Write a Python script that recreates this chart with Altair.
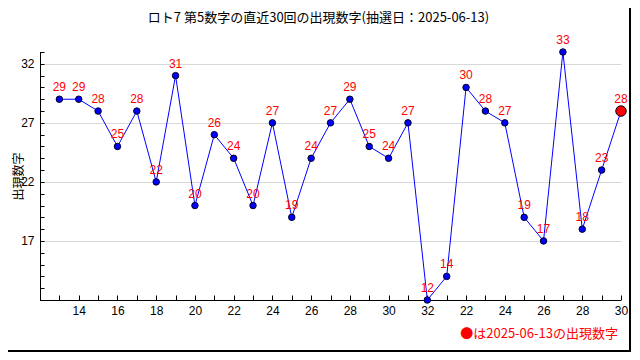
import json
import altair as alt
import pandas as pd

# ---- data ----
draw_index = list(range(1, 31))
numbers = [29, 29, 28, 25, 28, 22, 31, 20, 26, 24, 20, 27, 19, 24, 27,
           29, 25, 24, 27, 12, 14, 30, 28, 27, 19, 17, 33, 18, 23, 28]
x_tick_labels = ["13", "14", "15", "16", "17", "18", "19", "20", "21", "22",
                 "23", "24", "25", "26", "27", "28", "29", "30", "31", "32",
                 "21", "22", "23", "24", "25", "26", "27", "28", "29", "30"]
y_ticks = list(range(12, 34))
y_labeled = [17, 22, 27, 32]
title_text = "ロト7 第5数字の直近30回の出現数字(抽選日：2025-06-13)"
y_title = "出現数字"
note_text = "●は2025-06-13の出現数字"

df = pd.DataFrame({"idx": draw_index, "num": numbers})
df["latest"] = df["idx"] == draw_index[-1]

W, H = 581, 248
CJK = "Noto Sans CJK JP"
NUM = "Liberation Sans"

x_enc = alt.X(
    "idx:Q",
    scale=alt.Scale(domain=[0, 30], nice=False, zero=False),
    axis=alt.Axis(
        values=draw_index,
        labelExpr=f"datum.value % 2 == 0 ? {json.dumps(x_tick_labels)}[datum.value - 1] : ''",
        tickSize=5, offset=-5, domain=False, grid=False, title=None,
        labelPadding=5, labelFontSize=12, labelFont=NUM, labelColor="black",
        tickColor="black", labelOverlap=False, labelFlush=False,
    ),
)
y_enc = alt.Y(
    "num:Q",
    scale=alt.Scale(domain=[12, 33], nice=False, zero=False),
    axis=alt.Axis(
        values=y_ticks,
        labelExpr=f"indexof({json.dumps(y_labeled)}, datum.value) >= 0 ? datum.label : ''",
        tickSize=4, offset=-4, domain=False,
        grid=True, gridColor="#d8d8d8", gridWidth=1,
        gridOpacity={"condition": {"test": f"indexof({json.dumps(y_labeled)}, datum.value) >= 0", "value": 1}, "value": 0},
        labelPadding=6, labelFontSize=12, labelFont=NUM, labelColor="black",
        tickColor="black", labelOverlap=False, labelFlush=False,
        title=y_title, titleX=-26, titleY=H / 2, titleAngle=270,
        titleAlign="center", titleBaseline="middle", titleFontSize=12,
        titleFont=CJK, titleFontWeight="normal", titleColor="black",
    ),
)

base = alt.Chart(df)

line = base.mark_line(color="#0000ff", strokeWidth=1).encode(x=x_enc, y=y_enc)

points = base.mark_circle(opacity=1, stroke="#000022", strokeWidth=1).encode(
    x=x_enc,
    y=y_enc,
    color=alt.condition("datum.latest", alt.value("#ff0000"), alt.value("#0000ff")),
    size=alt.condition("datum.latest", alt.value(110), alt.value(42)),
)

labels = base.mark_text(
    color="#ff0000", fontSize=12, font=NUM, baseline="bottom", dy=-5
).encode(x=x_enc, y=y_enc, text="num:Q")

one = alt.Chart(pd.DataFrame({"k": [0]}))
left_axis = one.mark_rule(color="black", strokeWidth=1).encode(
    x=alt.value(0.5), y=alt.value(0), y2=alt.value(H))
bottom_axis = one.mark_rule(color="black", strokeWidth=1).encode(
    x=alt.value(0), x2=alt.value(W), y=alt.value(H + 0.5))
right_border = one.mark_rule(color="black", strokeWidth=2).encode(
    x=alt.value(590), y=alt.value(-44), y2=alt.value(300))
bottom_border = one.mark_rule(color="black", strokeWidth=2).encode(
    x=alt.value(-32), x2=alt.value(591), y=alt.value(299))

note = alt.Chart(pd.DataFrame({"t": [note_text]})).mark_text(
    color="#ff0000", fontSize=13, font=CJK, align="right", baseline="middle"
).encode(x=alt.value(W - 3), y=alt.value(H + 34), text="t:N")

title = alt.Chart(pd.DataFrame({"t": [title_text]})).mark_text(
    color="black", fontSize=13, font=CJK, align="center", baseline="middle"
).encode(x=alt.value(W / 2 - 12), y=alt.value(-34), text="t:N")

chart = alt.layer(
    line, left_axis, bottom_axis, points, labels, note, title,
    right_border, bottom_border
).properties(
    width=W, height=H,
    autosize=alt.AutoSizeParams(type="none"),
    padding={"left": 32, "top": 44, "right": 11, "bottom": 52},
    background="white",
).configure_view(stroke=None)

chart.save("out.html", embed_options={"renderer": "svg", "actions": False})
